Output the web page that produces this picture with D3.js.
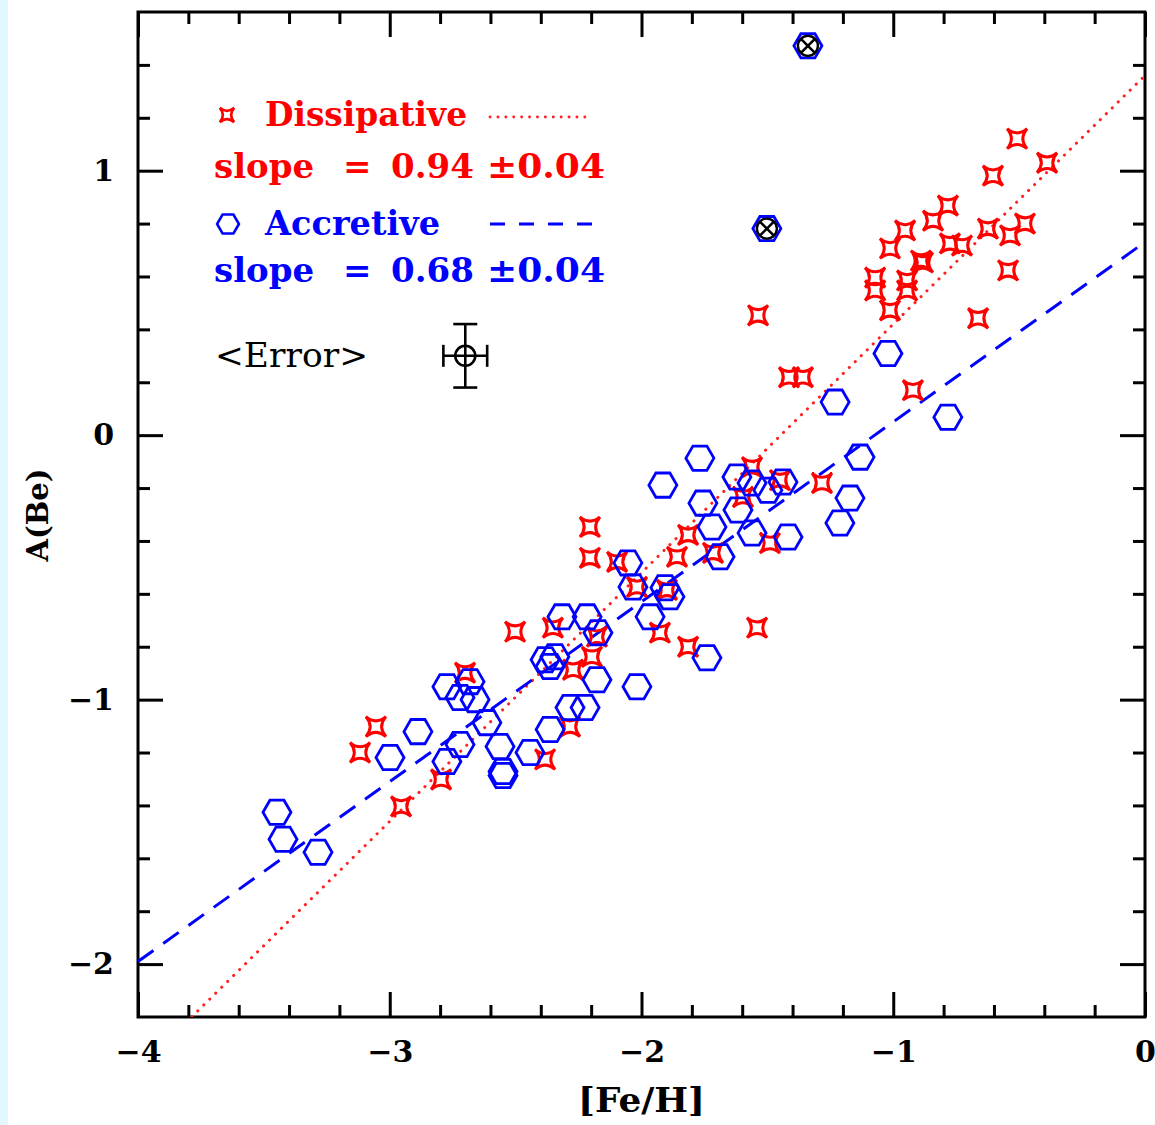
<!DOCTYPE html>
<html><head><meta charset="utf-8">
<script src="https://cdn.jsdelivr.net/npm/d3@7"></script>
<style>body{margin:0;background:#fff}</style>
</head><body><svg id="c" width="1155" height="1125"></svg>
<script>
// Dissipative (red stars)
const dissFe = [-0.508,-0.389,-0.604,-0.783,-0.842,-0.953,-1.013,-0.775,-0.727,-0.624,-0.536,-0.477,-0.882,-0.890,-1.072,-1.072,-0.945,-0.945,-1.013,-0.544,-0.663,-1.537,-1.414,-1.359,-0.922,-1.283,-1.561,-1.450,-1.597,-1.490,-1.541,-1.716,-1.815,-1.859,-2.018,-1.899,-1.927,-1.815,-2.205,-2.205,-2.097,-2.502,-2.352,-2.177,-2.197,-2.272,-2.284,-2.383,-2.701,-2.796,-2.955,-3.055,-3.118];
const dissBe = [1.121,1.030,0.981,0.868,0.811,0.774,0.706,0.725,0.717,0.781,0.755,0.800,0.653,0.660,0.596,0.547,0.585,0.547,0.472,0.623,0.442,0.453,0.219,0.219,0.170,-0.181,-0.121,-0.170,-0.234,-0.408,-0.728,-0.445,-0.377,-0.460,-0.574,-0.585,-0.747,-0.800,-0.347,-0.464,-0.479,-0.743,-0.728,-0.762,-0.838,-0.887,-1.102,-1.226,-0.898,-1.302,-1.404,-1.102,-1.200];
// Accretive (blue hexagons)
const accFe = [-1.021,-1.231,-0.783,-1.132,-1.768,-1.915,-1.621,-1.561,-1.498,-1.438,-1.756,-1.617,-1.720,-1.561,-1.418,-1.172,-1.212,-1.688,-1.740,-2.018,-2.054,-2.034,-1.907,-1.887,-1.966,-2.316,-2.216,-2.173,-2.383,-2.363,-2.344,-2.177,-2.284,-2.224,-2.363,-2.443,-2.562,-2.550,-2.550,-2.614,-2.773,-2.681,-2.721,-2.661,-2.721,-2.773,-2.888,-2.999,-3.448,-3.424,-3.285];
const accBe = [0.309,0.125,0.068,-0.083,-0.087,-0.189,-0.158,-0.181,-0.208,-0.177,-0.257,-0.283,-0.347,-0.370,-0.385,-0.238,-0.332,-0.460,-0.842,-0.951,-0.483,-0.574,-0.577,-0.611,-0.687,-0.687,-0.687,-0.747,-0.849,-0.875,-0.838,-0.925,-1.030,-1.030,-1.113,-1.200,-1.177,-1.272,-1.287,-1.087,-0.951,-0.932,-0.992,-1.000,-1.170,-1.234,-1.121,-1.219,-1.426,-1.528,-1.577];
// Accretive stars marked with a cross
const flagFe = [-1.339,-1.502];
const flagBe = [1.472,0.781];
const xTicks = [-4,-3,-2,-1,0];
const yTicks = [-2,-1,0,1];
const fitDiss = [1.36, 0.94];   // intercept, slope
const fitAcc = [0.73, 0.68];
const errPoint = [-2.70, 0.30, 0.087, 0.12]; // fe, be, dfe, dbe
const legendLabels = ["Dissipative","Accretive","<Error>"];

const svg = d3.select('#c');
svg.append('rect').attr('x',0).attr('y',0).attr('width',8).attr('height',1125).attr('fill','#e0f8fe');
const L=138,R=1145,T=12,B=1017;
const x = d3.scaleLinear().domain([-4,0]).range([L,R]);
const y = d3.scaleLinear().domain([-2.2,1.6]).range([B,T]);

svg.append('clipPath').attr('id','clip').append('rect').attr('x',L).attr('y',T).attr('width',R-L).attr('height',B-T);

const fmt = d3.format('d');
const xMinor = d3.range(1,20).filter(i=>i%5!==0).map(i=>-4+i*0.2);
const yMinor = d3.range(1,19).filter(i=>(i-1)%5!==0).map(i=>-2.2+i*0.2);

function styleAxis(g){
  g.select('.domain').remove();
  g.selectAll('line').attr('stroke','#000').attr('stroke-width',3);
  g.selectAll('text').attr('font-family','DejaVu Serif').attr('font-weight','bold').attr('font-size',30).attr('fill','#000');
}
svg.append('g').attr('transform',`translate(0,${B})`).call(d3.axisBottom(x).tickValues(xTicks).tickSize(-25).tickPadding(24).tickFormat(fmt)).call(styleAxis);
svg.append('g').attr('transform',`translate(0,${B})`).call(d3.axisBottom(x).tickValues(xMinor).tickSize(-12).tickFormat('')).call(styleAxis);
svg.append('g').attr('transform',`translate(0,${T})`).call(d3.axisTop(x).tickValues(xTicks).tickSize(-25).tickFormat('')).call(styleAxis);
svg.append('g').attr('transform',`translate(0,${T})`).call(d3.axisTop(x).tickValues(xMinor).tickSize(-12).tickFormat('')).call(styleAxis);
svg.append('g').attr('transform',`translate(${L},0)`).call(d3.axisLeft(y).tickValues(yTicks).tickSize(-25).tickPadding(24).tickFormat(fmt)).call(styleAxis);
svg.append('g').attr('transform',`translate(${L},0)`).call(d3.axisLeft(y).tickValues(yMinor).tickSize(-12).tickFormat('')).call(styleAxis);
svg.append('g').attr('transform',`translate(${R},0)`).call(d3.axisRight(y).tickValues(yTicks).tickSize(-25).tickFormat('')).call(styleAxis);
svg.append('g').attr('transform',`translate(${R},0)`).call(d3.axisRight(y).tickValues(yMinor).tickSize(-12).tickFormat('')).call(styleAxis);

svg.append('rect').attr('x',L).attr('y',T).attr('width',R-L).attr('height',B-T).attr('fill','none').attr('stroke','#000').attr('stroke-width',3);

// axis titles
svg.append('text').attr('x',(L+R)/2).attr('y',1112).attr('text-anchor','middle').attr('font-family','DejaVu Serif').attr('font-weight','bold').attr('font-size',34).attr('textLength',127).attr('lengthAdjust','spacingAndGlyphs').text('[Fe/H]');
svg.append('text').attr('transform','translate(48,515) rotate(-90)').attr('text-anchor','middle').attr('font-family','DejaVu Serif').attr('font-weight','bold').attr('font-size',29).text('A(Be)');

// fit lines
const plot = svg.append('g').attr('clip-path','url(#clip)');
const line = d3.line().x(d=>x(d[0])).y(d=>y(d[1]));
plot.append('path').attr('d',line([-4,0].map(f=>[f,fitDiss[0]+fitDiss[1]*f]))).attr('fill','none').attr('stroke','#ff2020').attr('stroke-width',3).attr('stroke-dasharray','0.1 8.3').attr('stroke-linecap','round');
plot.append('path').attr('d',line([-4,0].map(f=>[f,fitAcc[0]+fitAcc[1]*f]))).attr('fill','none').attr('stroke','#0000ff').attr('stroke-width',3).attr('stroke-dasharray','19 12');

const s=10;
const starPath2 = `M${-s},${-s}Q0,${-s*0.15} ${s},${-s}Q${s*0.15},0 ${s},${s}Q0,${s*0.15} ${-s},${s}Q${-s*0.15},0 ${-s},${-s}Z`;
const Rh=14;
const hexPath = 'M'+d3.range(6).map(i=>[Rh*Math.cos(i*Math.PI/3),Rh*Math.sin(i*Math.PI/3)].map(v=>v.toFixed(2)).join(',')).join('L')+'Z';

plot.append('g').selectAll('path').data(dissFe.map((f,i)=>[f,dissBe[i]])).join('path')
  .attr('transform',d=>`translate(${x(d[0])},${y(d[1])})`).attr('d',starPath2)
  .attr('fill','none').attr('stroke','#ff0000').attr('stroke-width',3);
plot.append('g').selectAll('path').data(accFe.map((f,i)=>[f,accBe[i]])).join('path')
  .attr('transform',d=>`translate(${x(d[0])},${y(d[1])})`).attr('d',hexPath)
  .attr('fill','none').attr('stroke','#0000ff').attr('stroke-width',2.8);
const fl = plot.append('g').selectAll('g').data(flagFe.map((f,i)=>[f,flagBe[i]])).join('g')
  .attr('transform',d=>`translate(${x(d[0])},${y(d[1])})`);
fl.append('path').attr('d',hexPath).attr('fill','none').attr('stroke','#0000ff').attr('stroke-width',2.8);
fl.append('circle').attr('r',10).attr('fill','none').attr('stroke','#000').attr('stroke-width',2.4);
fl.append('path').attr('d','M-7,-7L7,7M-7,7L7,-7').attr('stroke','#000').attr('stroke-width',2.6);

// error bar
const eg = svg.append('g').attr('stroke','#000').attr('stroke-width',2.6).attr('fill','none');
const ex=x(errPoint[0]), ey=y(errPoint[1]);
const ex0=x(errPoint[0]-errPoint[2]), ex1=x(errPoint[0]+errPoint[2]);
const ey0=y(errPoint[1]-errPoint[3]), ey1=y(errPoint[1]+errPoint[3]);
eg.append('line').attr('x1',ex0).attr('x2',ex1).attr('y1',ey).attr('y2',ey);
eg.append('line').attr('x1',ex).attr('x2',ex).attr('y1',ey0).attr('y2',ey1);
eg.append('line').attr('x1',ex0).attr('x2',ex0).attr('y1',ey-11).attr('y2',ey+11);
eg.append('line').attr('x1',ex1).attr('x2',ex1).attr('y1',ey-11).attr('y2',ey+11);
eg.append('line').attr('x1',ex-12).attr('x2',ex+12).attr('y1',ey0).attr('y2',ey0);
eg.append('line').attr('x1',ex-12).attr('x2',ex+12).attr('y1',ey1).attr('y2',ey1);
eg.append('circle').attr('cx',ex).attr('cy',ey).attr('r',10);

// legend
const lg = svg.append('g').attr('font-family','DejaVu Serif').attr('font-size',34);
lg.append('path').attr('transform','translate(227,115) scale(0.72)').attr('d',starPath2).attr('fill','none').attr('stroke','#ff0000').attr('stroke-width',3.6);
lg.append('text').attr('x',265).attr('y',126).attr('fill','#ff0000').attr('font-weight','bold').attr('textLength',202).attr('lengthAdjust','spacingAndGlyphs').text(legendLabels[0]);
lg.append('line').attr('x1',490).attr('x2',592).attr('y1',117).attr('y2',117).attr('stroke','#ff2020').attr('stroke-width',2.8).attr('stroke-dasharray','0.1 7.8').attr('stroke-linecap','round');
function slopeText(yb,col,val){
  const t = lg.append('text').attr('y',yb).attr('fill',col).attr('font-weight','bold');
  t.append('tspan').attr('x',214).text('slope ');
  t.append('tspan').attr('x',343).text('= ');
  t.append('tspan').attr('x',391).text(val+' ');
  t.append('tspan').attr('x',487).attr('textLength',118).attr('lengthAdjust','spacingAndGlyphs').text('±0.04');
}
slopeText(178,'#ff0000','0.94');
lg.append('path').attr('transform','translate(228,224) scale(0.78)').attr('d',hexPath).attr('fill','none').attr('stroke','#0000ff').attr('stroke-width',3.3);
lg.append('text').attr('x',265).attr('y',235).attr('fill','#0000ff').attr('font-weight','bold').attr('textLength',175).attr('lengthAdjust','spacingAndGlyphs').text(legendLabels[1]);
lg.append('line').attr('x1',490).attr('x2',592).attr('y1',224).attr('y2',224).attr('stroke','#0000ff').attr('stroke-width',3).attr('stroke-dasharray','15 14');
slopeText(282,'#0000ff','0.68');
lg.append('text').attr('x',215).attr('y',367).attr('fill','#000').attr('textLength',153).attr('lengthAdjust','spacingAndGlyphs').text(legendLabels[2]);
</script></body></html>
